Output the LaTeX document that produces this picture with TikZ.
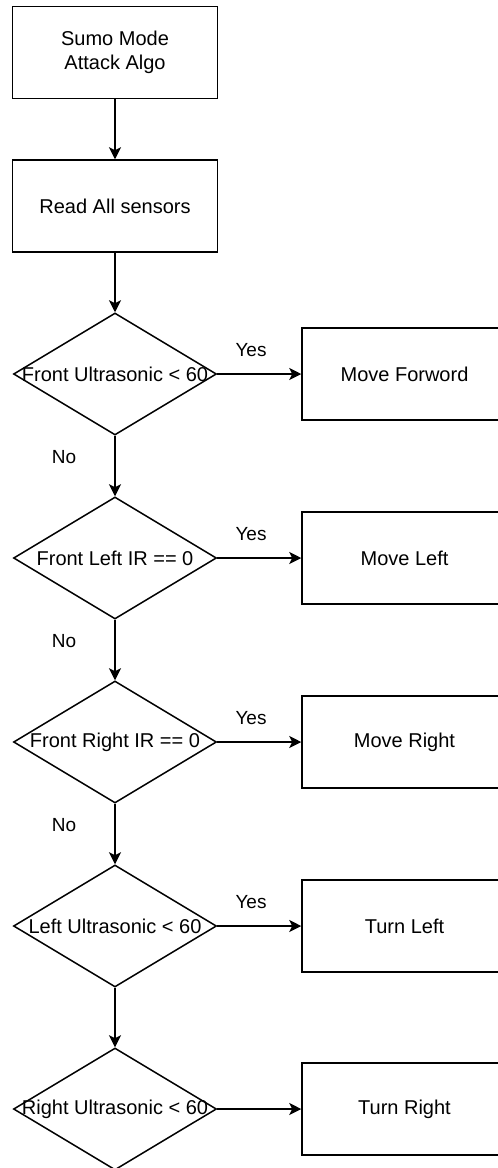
\documentclass[tikz,border=0pt]{standalone}
\usepackage{fontspec}
\setmainfont{Liberation Sans}
\usetikzlibrary{shapes.geometric,arrows.meta}
\tikzset{%
    blk/.style={draw,line width=1.5pt,minimum width=205pt,minimum height=92pt,
        inner sep=0pt,align=center,font=\fontsize{20}{23.5}\selectfont},
    dec/.style={draw,diamond,line width=1.5pt,minimum width=203pt,minimum height=122pt,
        inner sep=0pt,font=\fontsize{20}{24}\selectfont},
    lbl/.style={font=\fontsize{19}{22}\selectfont,inner sep=0pt}
}
\newcommand{\dtext}[1]{\makebox[0pt][c]{#1}}

\begin{document}
\begin{tikzpicture}[x=1pt,y=-1pt,
            edge/.style={line width=1.5pt,-{Stealth[length=12pt,width=12pt,inset=3pt]}}
            ]
            \useasboundingbox (0,0) rectangle (498,1168);
            \clip (0,0) rectangle (498,1168);
            % main column
            \node[blk] (start) at (115,52.5){Sumo Mode\\Attack Algo};
            \node[blk] (read) at (115,206){Read All sensors};
            \node[dec] (fus) at (115,374){\dtext{Front Ultrasonic < 60}};
            \node[dec] (fli) at (115,558){\dtext{Front Left IR == 0}};
            \node[dec] (fri) at (115,742){\dtext{Front Right IR == 0}};
            \node[dec] (lus) at (115,926){\dtext{Left Ultrasonic < 60}};
            \node[dec] (rus) at (115,1109){\dtext{Right Ultrasonic < 60}};
            % actions
            \node[blk] (fwd) at (404.5,374){Move Forword};
            \node[blk] (mleft) at (404.5,558){Move Left};
            \node[blk] (mright) at (404.5,742){Move Right};
            \node[blk] (tleft) at (404.5,926){Turn Left};
            \node[blk] (tright) at (404.5,1109){Turn Right};
            \draw[edge] (start) -- (read);
            \draw[edge] (read) -- (fus);
            \draw[edge] (fus) -- (fli);
            \draw[edge] (fli) -- (fri);
            \draw[edge] (fri) -- (lus);
            \draw[edge] (lus) -- (rus);
            \draw[edge] (fus) -- (fwd);
            \draw[edge] (fli) -- (mleft);
            \draw[edge] (fri) -- (mright);
            \draw[edge] (lus) -- (tleft);
            \draw[edge] (rus) -- (tright);
            % labels
            \node[lbl] (y1) at (251,350){Yes};
            \node[lbl] (y2) at (251,534){Yes};
            \node[lbl] (y3) at (251,718){Yes};
            \node[lbl] (y4) at (251,902){Yes};
            \node[lbl] (n1) at (64,457){No};
            \node[lbl] (n2) at (64,641){No};
            \node[lbl] (n3) at (64,825){No};
        \end{tikzpicture}
\end{document}
